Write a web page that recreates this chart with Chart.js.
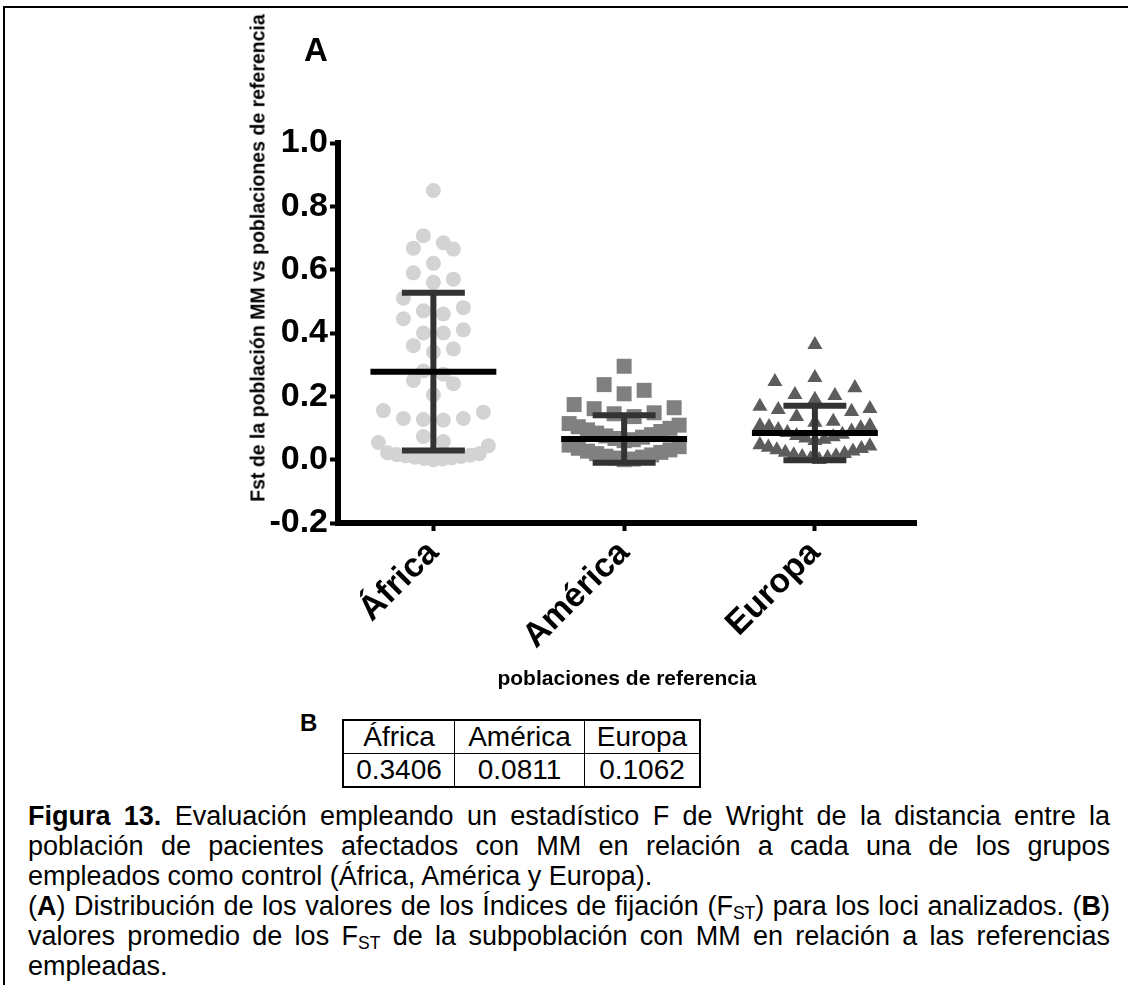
<!DOCTYPE html>
<html lang="es">
<head>
<meta charset="utf-8">
<script src="https://cdn.jsdelivr.net/npm/chart.js@4.4.1/dist/chart.umd.min.js"></script>
<style>
  html, body { margin: 0; padding: 0; background: #fff; }
  body { width: 1128px; height: 985px; position: relative; overflow: hidden; font-family: 'Liberation Sans', Arial, sans-serif; color: #000; }
  #chart { position: absolute; left: 0; top: 0; }
  .frame-top { position: absolute; left: 3px; top: 6px; width: 1125px; height: 2px; background: #000; }
  .frame-left { position: absolute; left: 3px; top: 6px; width: 2px; height: 979px; background: #000; }
  #ytitle { position: absolute; left: 258px; top: 258px; transform: translate(-50%, -50%) rotate(-90deg); white-space: nowrap; font-weight: bold; font-size: 19.5px; }
  .panel { position: absolute; font-weight: bold; }
  #panelA { left: 304px; top: 33px; font-size: 33px; line-height: 33px; }
  #panelB { left: 300px; top: 711px; font-size: 24px; line-height: 24px; }
  #tbl { position: absolute; left: 342px; top: 719px; border-collapse: collapse; border: 2px solid #000; font-size: 28px; }
  #tbl td { border: 1.5px solid #000; height: 32px; padding: 0; text-align: center; line-height: 32px; }
  #caption { position: absolute; left: 28px; top: 801px; width: 1082px; font-size: 27px; line-height: 30px; }
  #caption .j { text-align: justify; text-align-last: justify; }
  .sub { font-size: 0.65em; vertical-align: -0.25em; line-height: 0; }
</style>
</head>
<body>
<div class="frame-top"></div>
<div class="frame-left"></div>
<canvas id="chart" width="1128" height="700"></canvas>
<div id="ytitle">Fst de la población MM vs poblaciones de referencia</div>
<div class="panel" id="panelA">A</div>
<div class="panel" id="panelB">B</div>
<table id="tbl">
  <tr><td style="width:110px">África</td><td style="width:129px">América</td><td style="width:114px">Europa</td></tr>
  <tr><td>0.3406</td><td>0.0811</td><td>0.1062</td></tr>
</table>
<div id="caption">
  <div class="j"><b>Figura 13.</b> Evaluación empleando un estadístico F de Wright de la distancia entre la</div>
  <div class="j">población de pacientes afectados con MM en relación a cada una de los grupos</div>
  <div>empleados como control (África, América y Europa).</div>
  <div class="j">(<b>A</b>) Distribución de los valores de los Índices de fijación (F<span class="sub">ST</span>) para los loci analizados. (<b>B</b>)</div>
  <div class="j">valores promedio de los F<span class="sub">ST</span> de la subpoblación con MM en relación a las referencias</div>
  <div>empleadas.</div>
</div>
<script>
const categories = ['África', 'América', 'Europa'];
const yTicks = [-0.2, 0, 0.2, 0.4, 0.6, 0.8, 1.0];

// Fst por locus
const africa = [
  0.000, 0.002, 0.004, 0.006, 0.008, 0.010, 0.012, 0.014, 0.016, 0.019, 0.022,
  0.044, 0.054, 0.057, 0.073, 0.125, 0.127, 0.130, 0.130, 0.150, 0.155,
  0.205, 0.240, 0.250, 0.270, 0.280, 0.340, 0.350, 0.360, 0.400, 0.400, 0.410,
  0.445, 0.460, 0.470, 0.480, 0.510, 0.560, 0.570, 0.590, 0.620, 0.665, 0.668,
  0.685, 0.707, 0.850,
];
const america = [
  0.000, 0.002, 0.005, 0.008, 0.011, 0.015, 0.019, 0.023, 0.027, 0.031, 0.036, 0.041, 0.046,
  0.060, 0.063, 0.067, 0.071, 0.075, 0.079, 0.084, 0.089, 0.094, 0.099, 0.104, 0.109, 0.114,
  0.136, 0.145, 0.148, 0.161, 0.164, 0.174, 0.208, 0.219, 0.237, 0.295,
];
const europa = [
  0.000, 0.003, 0.006, 0.009, 0.012, 0.015, 0.019, 0.023, 0.027, 0.031, 0.035, 0.039, 0.043, 0.047,
  0.060, 0.064, 0.068, 0.072, 0.076, 0.080, 0.085, 0.090, 0.095, 0.100, 0.104, 0.107, 0.107,
  0.118, 0.121, 0.136, 0.152, 0.158, 0.161, 0.168, 0.190, 0.202, 0.205, 0.227, 0.246,
  0.259, 0.363,
];
// media y desviación estándar de cada grupo
const means = [0.278, 0.065, 0.084];
const sds = [0.249, 0.075, 0.086];

const groups = [africa, america, europa];
const pointStyles = [
  { pointStyle: 'circle', pointRadius: 7.5, backgroundColor: '#d3d3d3' },
  { pointStyle: 'rect', pointRadius: 10.6, backgroundColor: '#808080' },
  { pointStyle: 'triangle', pointRadius: 8.7, backgroundColor: '#5c5c5c' },
];

const FONT = "'Liberation Sans', Arial, sans-serif";
const MEAN_HALF = 0.33;
const CAP_HALF = 0.165;
const ROW_PX = 18;
const GAP_PX = 20;
const SPREAD_PX = 55;

Chart.defaults.font.family = FONT;
Chart.defaults.color = '#000';

// mean lines and SD whiskers, separated by null points
const meanData = [];
const whiskerData = [];
means.forEach((m, i) => {
  const top = m + sds[i];
  const bottom = m - sds[i];
  meanData.push({ x: i - MEAN_HALF, y: m }, { x: i + MEAN_HALF, y: m }, { x: i, y: null });
  whiskerData.push(
    { x: i, y: bottom }, { x: i, y: top }, { x: i, y: null },
    { x: i - CAP_HALF, y: top }, { x: i + CAP_HALF, y: top }, { x: i, y: null },
    { x: i - CAP_HALF, y: bottom }, { x: i + CAP_HALF, y: bottom }, { x: i, y: null },
  );
});

const datasets = groups.map((values, i) => ({
  type: 'scatter',
  label: categories[i],
  data: values.map((v) => ({ x: i, y: v })),
  borderWidth: 0,
  order: 2,
  ...pointStyles[i],
  pointHoverRadius: pointStyles[i].pointRadius,
}));

datasets.push({
  type: 'line',
  label: 'sd',
  data: whiskerData,
  borderColor: '#333333',
  borderWidth: 6,
  pointRadius: 0,
  spanGaps: false,
  fill: false,
  order: 1,
});
datasets.push({
  type: 'line',
  label: 'media',
  data: meanData,
  borderColor: '#000000',
  borderWidth: 6,
  pointRadius: 0,
  spanGaps: false,
  fill: false,
  order: 0,
});

const axisGrid = { drawOnChartArea: false, drawTicks: true, tickLength: 8, tickWidth: 4, tickColor: '#000' };
const axisBorder = { display: true, color: '#000', width: 6 };

const chart = new Chart(document.getElementById('chart'), {
  type: 'scatter',
  data: { datasets },
  options: {
    responsive: false,
    animation: false,
    events: [],
    layout: { padding: { left: 200, right: 212, top: 143, bottom: 8 } },
    plugins: { legend: { display: false }, tooltip: { enabled: false } },
    scales: {
      x: {
        type: 'linear',
        min: -0.5,
        max: 2.53,
        afterBuildTicks: (scale) => { scale.ticks = categories.map((c, i) => ({ value: i })); },
        afterFit: (scale) => { scale.height = 169; },
        ticks: {
          autoSkip: false,
          minRotation: 45,
          maxRotation: 45,
          padding: 2,
          color: '#000',
          font: { size: 34, weight: 'bold' },
          callback: (v) => categories[v],
        },
        grid: axisGrid,
        border: axisBorder,
        title: {
          display: true,
          text: 'poblaciones de referencia',
          color: '#000',
          padding: 0,
          font: { size: 21, weight: 'bold' },
        },
      },
      y: {
        min: -0.2,
        max: 1.0,
        afterBuildTicks: (scale) => { scale.ticks = yTicks.map((v) => ({ value: v })); },
        afterFit: (scale) => { scale.width = 138; },
        ticks: {
          padding: 2,
          color: '#000',
          font: { size: 34, weight: 'bold' },
          callback: (v) => (Math.abs(v) < 1e-9 ? 0 : v).toFixed(1),
        },
        grid: axisGrid,
        border: axisBorder,
      },
    },
  },
});

// Prism-like scatter: points binned into rows, each row spread around the category
function swarm(values, center, xScale, yScale) {
  const unit = xScale.getPixelForValue(1) - xScale.getPixelForValue(0);
  const sorted = [...values].sort((a, b) => a - b);
  const rows = [];
  sorted.forEach((v) => {
    const py = yScale.getPixelForValue(v);
    const row = rows[rows.length - 1];
    if (row && row.start - py < ROW_PX) row.items.push(v);
    else rows.push({ start: py, items: [v] });
  });
  const points = [];
  rows.forEach(({ items }) => {
    const n = items.length;
    const gap = n > 1 ? Math.min(GAP_PX, (2 * SPREAD_PX) / (n - 1)) : 0;
    const slots = [];
    for (let k = 0; k < n; k++) slots.push((k - (n - 1) / 2) * gap);
    slots.sort((a, b) => Math.abs(a) - Math.abs(b) || b - a);
    items.forEach((v, k) => points.push({ x: center + slots[k] / unit, y: v }));
  });
  return points;
}

groups.forEach((values, i) => {
  chart.data.datasets[i].data = swarm(values, i, chart.scales.x, chart.scales.y);
});
chart.update();
</script>
</body>
</html>
